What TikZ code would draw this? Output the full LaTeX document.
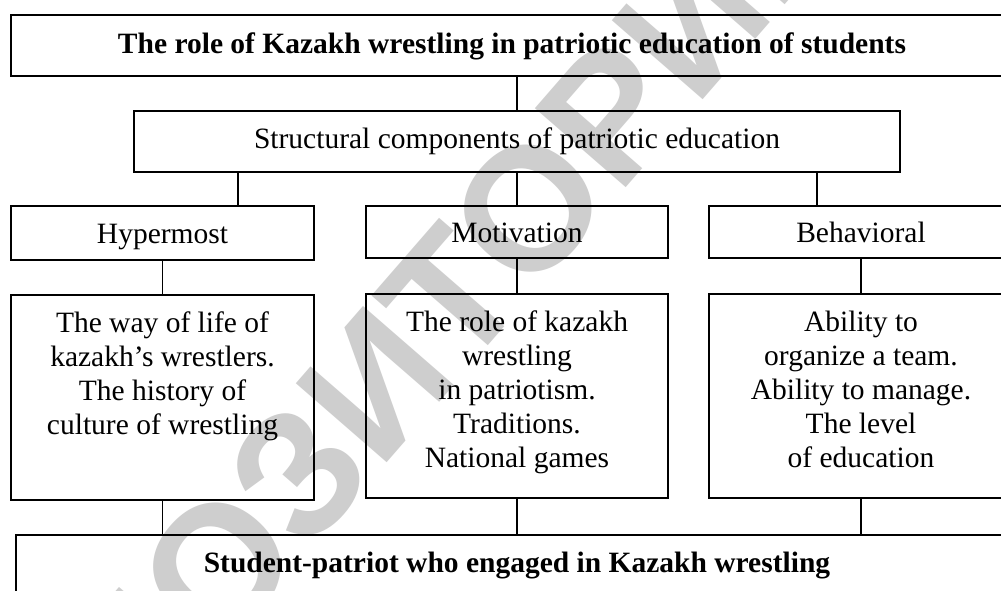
\documentclass[tikz,border=0pt]{standalone}
\usepackage{fontspec}
\setmainfont{Liberation Serif}
\newfontfamily\markfont{Liberation Sans}
\usetikzlibrary{positioning}

\begin{document}
\begin{tikzpicture}[x=1pt, y=1pt, node distance=17pt,
    every node/.style={inner sep=0, outer sep=0},
    box/.style={draw, line width=2pt},
    headbox/.style={box, minimum width=1002pt, minimum height=61pt, font=\fontsize{29.5}{34}\selectfont\bfseries, text height=21pt, text depth=6pt},
    midbox/.style={box, minimum height=61pt, font=\fontsize{29.5}{34}\selectfont, text height=20pt, text depth=6pt},
    catbox/.style={box, minimum height=52pt, font=\fontsize{29.5}{34}\selectfont, text height=22pt, text depth=2pt},
    lowbox/.style={box, minimum height=204pt},
    lowtext/.style={align=center, font=\fontsize{29.5}{34}\selectfont},
    link/.style={line width=1.4pt}]
        % Colors
        \definecolor{markgray}{RGB}{206,206,206}

        \useasboundingbox (0,0) rectangle (1001,-590);
        \fill[white] (0,0) rectangle (1001,-590);
        \clip (0,0) rectangle (1001,-590);

        % Watermark
        \node[rotate=49, text=markgray, font=\markfont\fontsize{175}{175}\bfseries] (mark) at (362,-372) {РЕПОЗИТОРИЙ};

        \node[headbox] (title) at (512,-45.5) {The role of Kazakh wrestling in patriotic education of students};
        \node[midbox, minimum width=766pt] (struct) at (517,-141.5) {Structural components of patriotic education};

        \node[catbox, minimum width=303pt, minimum height=54pt] (hyper) at (162.5,-233) {Hypermost};
        \node[catbox, minimum width=302pt] (motiv) at (517,-232) {Motivation};
        \node[catbox, minimum width=304pt] (behav) at (861,-232) {Behavioral};

        \node[lowbox, minimum width=303pt, minimum height=205pt, line width=2.6pt] (life) at (162.5,-397.5) {};
        \node[lowtext, below=17pt of life.north] (lifetext) {The way of life of\\kazakh’s wrestlers.\\The history of\\culture of wrestling};

        \node[lowbox, minimum width=302pt] (patriotism) at (517,-396) {};
        \node[lowtext, below=17pt of patriotism.north] (patriotismtext) {The role of kazakh\\wrestling\\in patriotism.\\Traditions.\\National games};

        \node[lowbox, minimum width=304pt] (ability) at (861,-396) {};
        \node[lowtext, below=17pt of ability.north] (abilitytext) {Ability to\\organize a team.\\Ability to manage.\\The level\\of education};

        \node[headbox] (patriot) at (517,-565) {Student-patriot who engaged in Kazakh wrestling};

        % Connectors
        \coordinate (s1) at ([xshift=-279pt]struct.south);
        \coordinate (s3) at ([xshift=300pt]struct.south);
        \draw[link] (title.south -| struct.north) -- (struct.north);
        \draw[link] (s1) -- (s1 |- hyper.north);
        \draw[link] (struct.south) -- (motiv.north);
        \draw[link] (s3) -- (s3 |- behav.north);
        \draw[link] (hyper.south) -- (life.north);
        \draw[link] (motiv.south) -- (patriotism.north);
        \draw[link] (behav.south) -- (ability.north);
        \draw[link] (life.south) -- (life.south |- patriot.north);
        \draw[link] (patriotism.south) -- (patriot.north);
        \draw[link] (ability.south) -- (ability.south |- patriot.north);
      \end{tikzpicture}
\end{document}
